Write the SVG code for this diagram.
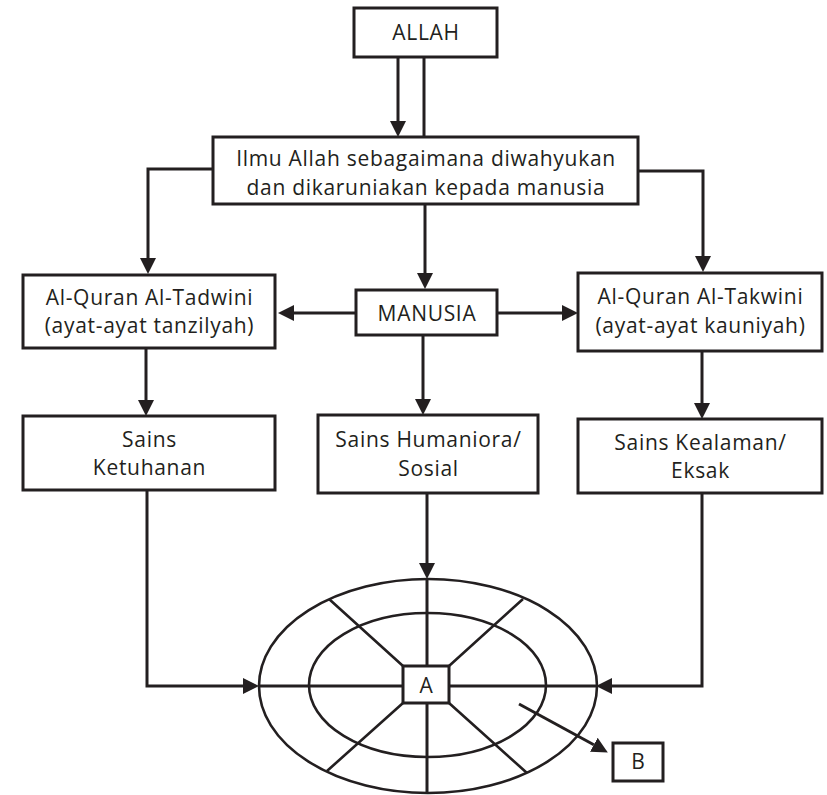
<svg xmlns="http://www.w3.org/2000/svg" width="827" height="795" viewBox="0 0 827 795">
<style>
.box{fill:#fff;stroke:#231f20;stroke-width:3}
.t{font-family:"Open Sans","Noto Sans","Liberation Sans",sans-serif;font-size:21px;letter-spacing:0.7px;fill:#231f20;text-anchor:middle}
.c{fill:none;stroke:#231f20;stroke-width:3}
.w{fill:none;stroke:#231f20;stroke-width:2.6}
</style>
<defs>
<marker id="ah" markerUnits="userSpaceOnUse" markerWidth="16" markerHeight="16" refX="0" refY="8" orient="auto" viewBox="0 0 16 16">
<path d="M0,0 L16,8 L0,16 z" fill="#231f20"/>
</marker>
</defs>
<rect width="827" height="795" fill="#fff"/>
<g id="connectors">
<path class="c" d="M398,57 V121" marker-end="url(#ah)"/>
<path class="c" d="M424,57 V137" stroke-width="4"/>
<path class="c" d="M213,169 H148 V258" marker-end="url(#ah)"/>
<path class="c" d="M425,204 V273" marker-end="url(#ah)"/>
<path class="c" d="M638,171 H703 V256" marker-end="url(#ah)"/>
<path class="c" d="M356,313 H294" marker-end="url(#ah)"/>
<path class="c" d="M497,313 H562" marker-end="url(#ah)"/>
<path class="c" d="M146,348 V400" marker-end="url(#ah)"/>
<path class="c" d="M423,335 V399" marker-end="url(#ah)"/>
<path class="c" d="M702,351 V403" marker-end="url(#ah)"/>
<path class="c" d="M147,490 V686 H243" marker-end="url(#ah)"/>
<path class="c" d="M427,493 V563" marker-end="url(#ah)"/>
<path class="c" d="M702,493 V686 H612" marker-end="url(#ah)"/>
<path class="c" d="M519,704 L593.8,744.8" marker-end="url(#ah)"/>
</g>
<g id="allah">
<rect class="box" x="354" y="8" width="143" height="49"/>
<text class="t" x="426" y="40">ALLAH</text>
</g>
<g id="ilmu">
<rect class="box" x="213" y="137" width="425" height="67"/>
<text class="t" x="426" y="166">Ilmu Allah sebagaimana diwahyukan</text>
<text class="t" x="426" y="195">dan dikaruniakan kepada manusia</text>
</g>
<g id="tadwini">
<rect class="box" x="23" y="275" width="252" height="73"/>
<text class="t" x="149.5" y="305">Al-Quran Al-Tadwini</text>
<text class="t" x="149.5" y="333">(ayat-ayat tanzilyah)</text>
</g>
<g id="manusia">
<rect class="box" x="356" y="290" width="141" height="45"/>
<text class="t" x="427" y="321">MANUSIA</text>
</g>
<g id="takwini">
<rect class="box" x="578" y="273" width="244" height="78"/>
<text class="t" x="700.5" y="304">Al-Quran Al-Takwini</text>
<text class="t" x="700.5" y="333">(ayat-ayat kauniyah)</text>
</g>
<g id="ketuhanan">
<rect class="box" x="23" y="416" width="252" height="74"/>
<text class="t" x="149.5" y="447">Sains</text>
<text class="t" x="149.5" y="475">Ketuhanan</text>
</g>
<g id="humaniora">
<rect class="box" x="318" y="415" width="220" height="78"/>
<text class="t" x="428.5" y="447">Sains Humaniora/</text>
<text class="t" x="428.5" y="476">Sosial</text>
</g>
<g id="kealaman">
<rect class="box" x="578" y="419" width="244" height="74"/>
<text class="t" x="700.5" y="450">Sains Kealaman/</text>
<text class="t" x="700.5" y="478">Eksak</text>
</g>
<g id="wheel">
<ellipse class="w" cx="428" cy="686" rx="169" ry="107"/>
<ellipse class="w" cx="427.5" cy="685" rx="118.5" ry="72"/>
<path class="w" d="M403,666 L329,599 M449,666 L523,599 M403,703 L327,771 M449,703 L527,773"/>
<path class="c" stroke-width="3.5" d="M259,686 H403 M449,686 H597 M427,579 V666 M427,703 V793"/>
<rect class="box" x="403" y="666" width="46" height="37"/>
<text class="t" x="426.5" y="693">A</text>
</g>
<g id="b">
<rect class="box" x="613" y="743" width="50" height="38"/>
<text class="t" x="638.5" y="769">B</text>
</g>
</svg>
